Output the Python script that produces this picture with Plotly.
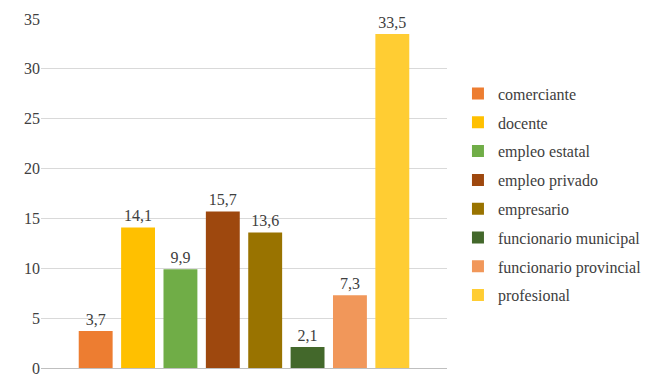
import plotly.graph_objects as go

categories = ["comerciante", "docente", "empleo estatal", "empleo privado",
              "empresario", "funcionario municipal", "funcionario provincial", "profesional"]
values = [3.7, 14.1, 9.9, 15.7, 13.6, 2.1, 7.3, 33.5]
colors = ["#ED7D31", "#FFC000", "#70AD47", "#9E480E",
          "#997300", "#43682B", "#F1975A", "#FFCD33"]
y_ticks = [0, 5, 10, 15, 20, 25, 30, 35]

FONT = "Liberation Serif"

fig = go.Figure()
for name, v, c in zip(categories, values, colors):
    fig.add_trace(go.Bar(
        x=[""], y=[v], name=name, marker_color=c, marker_line_width=0,
        texttemplate="%{y:.1f}", textposition="outside", cliponaxis=False,
        textfont=dict(family=FONT, size=16, color="#404040"),
        legendgroup=name,
    ))

fig.update_layout(
    width=650, height=387,
    margin=dict(l=33, r=211, t=11, b=27),
    paper_bgcolor="white", plot_bgcolor="white",
    barmode="group", bargap=0.165, bargroupgap=0.2,
    separators=",.",
    font=dict(family=FONT, size=16, color="#404040"),
    showlegend=True,
    legend=dict(x=1.027, y=0.835, xanchor="left", yanchor="top",
                font=dict(family=FONT, size=16, color="#404040"),
                tracegroupgap=5, itemwidth=30),
    xaxis=dict(showticklabels=False, showgrid=False, zeroline=False, showline=False),
    yaxis=dict(range=[0, 35], tickvals=y_ticks, showgrid=True, gridcolor="#D9D9D9",
               zeroline=True, zerolinecolor="#BFBFBF", zerolinewidth=1,
               tickfont=dict(family=FONT, size=16, color="#404040"), ticks="",
               ticklen=0, automargin=False),
)

fig.write_html("out.html")
